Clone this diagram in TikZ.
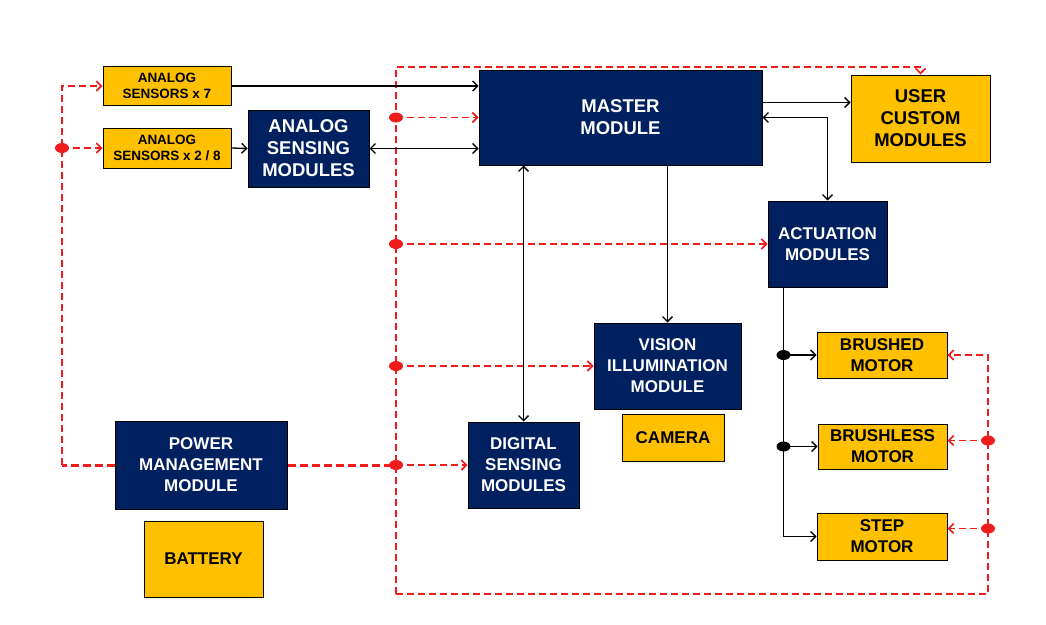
\documentclass[tikz,border=0pt]{standalone}
\usepackage{fontspec}
\setmainfont{Liberation Sans}
\usetikzlibrary{positioning, arrows.meta}
\definecolor{navy}{RGB}{0,32,96}
\definecolor{amber}{RGB}{255,192,0}
\definecolor{busred}{RGB}{240,28,28}
\tikzset{
  >={Straight Barb[length=5pt, width=10pt]},
  navybox/.style={draw=black, line width=1pt, fill=navy, text=white, align=center, inner sep=0pt,
    font=\fontsize{17}{21}\selectfont\bfseries},
  amberbox/.style={draw=black, line width=1pt, fill=amber, text=black, align=center, inner sep=0pt,
    font=\fontsize{17}{21}\selectfont\bfseries},
  smalltext/.style={font=\fontsize{13.5}{16.5}\selectfont\bfseries},
  bigtext/.style={font=\fontsize{18.5}{22}\selectfont\bfseries},
  sig/.style={->, black, line width=1.3pt},
  pwr/.style={->, busred, line width=1.7pt, dash pattern=on 7pt off 4pt},
  pwrthick/.style={busred, line width=3pt, dash pattern=on 8pt off 4pt},
}
\begin{document}
\begin{tikzpicture}[x=1pt, y=-1pt]
    \useasboundingbox (0,0) rectangle (1046,624);
    % 传感器与主模块
    \node[amberbox, smalltext, minimum width=128pt, minimum height=39pt] (sensA) at (167,86) {ANALOG\\SENSORS x 7};
    \node[amberbox, smalltext, minimum width=128pt, minimum height=40pt] (sensB) at (167,148) {ANALOG\\SENSORS x 2 / 8};
    \node[navybox, bigtext, minimum width=121pt, minimum height=77pt] (asm) at (308.5,148.5) {ANALOG\\SENSING\\MODULES};
    \node[navybox, bigtext, minimum width=283pt, minimum height=95pt] (master) at (620.5,117.5) {MASTER\\MODULE};
    \node[amberbox, bigtext, minimum width=139pt, minimum height=87pt] (user) at (920.5,118.5) {USER\\CUSTOM\\MODULES};
    \node[navybox, minimum width=119pt, minimum height=86pt] (act) at (827.5,244) {ACTUATION\\MODULES};
    \node[navybox, minimum width=147pt, minimum height=86pt] (vision) at (667.5,366) {VISION\\ILLUMINATION\\MODULE};
    \node[amberbox, minimum width=102pt, minimum height=47pt] (camera) at (673,437.5) {CAMERA};
    \node[navybox, minimum width=111pt, minimum height=86pt] (digital) at (523.5,465) {DIGITAL\\SENSING\\MODULES};
    \node[navybox, minimum width=172pt, minimum height=88pt] (power) at (201,465) {POWER\\MANAGEMENT\\MODULE};
    \node[amberbox, minimum width=119pt, minimum height=76pt] (battery) at (203.5,559) {BATTERY};
    % 电机
    \node[amberbox, minimum width=130pt, minimum height=46pt] (brushed) at (882,355) {BRUSHED\\MOTOR};
    \node[amberbox, minimum width=129pt, minimum height=45pt] (brushless) at (882.5,446.5) {BRUSHLESS\\MOTOR};
    \node[amberbox, minimum width=130pt, minimum height=47pt] (stepm) at (882,536.5) {STEP\\MOTOR};

    % 左侧电源线
    \coordinate (lb) at (62,465);
    \coordinate (lt) at (lb |- sensA.west);
    \coordinate (ld) at (lb |- sensB.west);
    \draw[pwrthick] (power.west) -- (lb);
    \draw[pwr] (lb) -- (lt) -- (sensA.west);
    \draw[pwr] (ld) -- (sensB.west);
    \fill[busred] (ld) ellipse (7pt and 5pt);

    % 中间电源总线
    \coordinate (mb) at (396,465);
    \coordinate (mtop) at (396,67);
    \coordinate (mbot) at (396,594);
    \coordinate (rb) at (988,594);
    \draw[pwrthick] (power.east) -- (mb);
    \draw[pwr] (mb) -- (digital.west);
    \draw[pwr] (mbot) -- (mtop) -| (user.north);
    \coordinate (m1) at (mtop |- master.west);
    \coordinate (m2) at (mtop |- act.west);
    \coordinate (m3) at (mtop |- vision.west);
    \draw[pwr] (m1) -- (master.west);
    \draw[pwr] (m2) -- (act.west);
    \draw[pwr] (m3) -- (vision.west);
    \foreach \p in {m1,m2,m3,mb}
        \fill[busred] (\p) ellipse (7pt and 5pt);

    % 右侧电源线
    \coordinate (s2) at ([yshift=6pt]brushless.east);
    \coordinate (s3) at ([yshift=8pt]stepm.east);
    \coordinate (r2) at (rb |- s2);
    \coordinate (r3) at (rb |- s3);
    \draw[pwr] (mbot) -- (rb) |- (brushed.east);
    \draw[pwr] (r2) -- (s2);
    \draw[pwr] (r3) -- (s3);
    \fill[busred] (r2) ellipse (7pt and 5pt);
    \fill[busred] (r3) ellipse (7pt and 5pt);

    % 信号线
    \draw[sig] (sensA.east) -- (sensA.east -| master.west);
    \draw[sig] (sensB.east) -- (asm.west);
    \draw[sig, <->] (asm.east) -- (asm.east -| master.west);
    \draw[sig, <->] (digital.north) -- (digital.north |- master.south);
    \draw[sig] (vision.north |- master.south) -- (vision.north);
    \coordinate (mu) at ([yshift=15pt]master.east);
    \draw[sig] (mu) -- (mu -| user.west);
    \draw[sig, <->] (act.north) |- (master.east);

    % 执行模块到电机
    \coordinate (ab) at ([xshift=-44pt]act.south);
    \coordinate (a1) at (ab |- brushed.west);
    \coordinate (a2) at (ab |- brushless.west);
    \draw[sig] (ab) |- (stepm.west);
    \draw[sig] (a1) -- (brushed.west);
    \draw[sig] (a2) -- (brushless.west);
    \fill (a1) ellipse (7pt and 5pt);
    \fill (a2) ellipse (7pt and 5pt);
\end{tikzpicture}
\end{document}
